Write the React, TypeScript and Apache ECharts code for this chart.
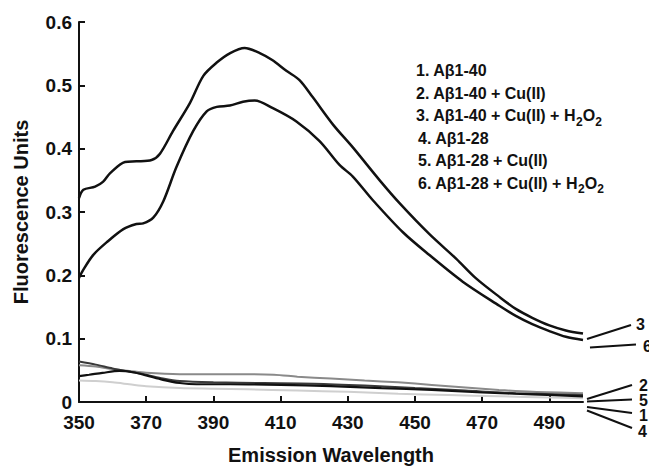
import React, { useEffect, useRef } from "react";
import * as echarts from "echarts";

const FONT = "'Liberation Sans', Arial, Helvetica, sans-serif";

// x-axis ticks / labels
const xTickLabels = [350, 370, 390, 410, 430, 450, 470, 490];
const xInnerTicks = [370, 390, 410, 430, 450, 470, 490];

// Series 3: Aβ1-40 + Cu(II) + H2O2
const wl3 = [350, 351.3, 354.8, 357.2, 359.2, 363.7, 367.1, 371.6, 374.1, 378, 383, 387, 391, 395, 399.3, 403.8, 407.5, 411.7, 415.7, 419.6, 425.6, 431.5, 439.5, 445.4, 454.3, 462.3, 468, 475.1, 480, 484.9, 490, 494.9, 500];
const fl3 = [0.322, 0.335, 0.34, 0.348, 0.361, 0.379, 0.38, 0.382, 0.392, 0.428, 0.472, 0.515, 0.536, 0.551, 0.559, 0.551, 0.54, 0.523, 0.508, 0.481, 0.438, 0.402, 0.35, 0.314, 0.265, 0.226, 0.196, 0.166, 0.147, 0.133, 0.121, 0.113, 0.108];

// Series 6: Aβ1-28 + Cu(II) + H2O2
const wl6 = [350, 351.3, 354.2, 358.2, 363.2, 367.1, 369.1, 372.1, 375.1, 379, 384, 388, 391, 394.9, 398.8, 402.3, 407.7, 414.7, 421.6, 427.6, 431.5, 437.4, 446.4, 454.3, 464.2, 475.1, 480, 484.9, 490, 494.9, 500];
const fl6 = [0.196, 0.209, 0.232, 0.252, 0.273, 0.281, 0.282, 0.291, 0.317, 0.371, 0.428, 0.459, 0.466, 0.468, 0.474, 0.476, 0.464, 0.443, 0.412, 0.374, 0.356, 0.319, 0.268, 0.232, 0.19, 0.152, 0.136, 0.123, 0.112, 0.103, 0.098];

// Series 1: Aβ1-40
const wl1 = [350, 353, 357, 362, 366, 370, 375, 380, 385, 395, 410, 425, 440, 455, 470, 485, 500];
const fl1 = [0.041, 0.043, 0.046, 0.049, 0.047, 0.042, 0.035, 0.03, 0.028, 0.028, 0.027, 0.025, 0.022, 0.019, 0.015, 0.012, 0.009];

// Series 2: Aβ1-40 + Cu(II)
const wl2 = [350, 355, 360, 365, 370, 380, 395, 408, 415, 425, 435, 445, 455, 465, 475, 485, 500];
const fl2 = [0.058, 0.056, 0.052, 0.049, 0.046, 0.044, 0.044, 0.043, 0.04, 0.037, 0.034, 0.031, 0.027, 0.023, 0.019, 0.016, 0.014];

// Series 4: Aβ1-28
const wl4 = [350, 355, 360, 365, 370, 380, 390, 400, 415, 430, 445, 460, 475, 490, 500];
const fl4 = [0.034, 0.033, 0.031, 0.028, 0.025, 0.022, 0.021, 0.02, 0.018, 0.016, 0.013, 0.011, 0.009, 0.007, 0.006];

// Series 5: Aβ1-28 + Cu(II)
const wl5 = [350, 355, 360, 365, 370, 375, 380, 390, 405, 420, 435, 450, 465, 480, 500];
const fl5 = [0.064, 0.059, 0.053, 0.048, 0.043, 0.037, 0.033, 0.031, 0.03, 0.029, 0.026, 0.022, 0.018, 0.014, 0.011];

const legendLines = [
  "{m|1. Aβ1-40}",
  "{m|2. Aβ1-40 + Cu(II)}",
  "{m|3. Aβ1-40 + Cu(II) + H}{s|2}{m|O}{s|2}",
  "{m|4. Aβ1-28}",
  "{m|5. Aβ1-28 + Cu(II)}",
  "{m|6. Aβ1-28 + Cu(II) + H}{s|2}{m|O}{s|2}",
];

const endLabels = ["3", "6", "2", "5", "1", "4"];

function pairs(xs: number[], ys: number[]) {
  return xs.map((x, i) => [x, ys[i]]);
}

export default function App() {
  const ref = useRef<HTMLDivElement>(null);
  useEffect(() => {
    if (!ref.current) return;
    const chart = echarts.init(ref.current, undefined, { renderer: "svg" });
    const mk = (name: string, data: number[][], color: string, width: number, z: number) => ({
      name,
      type: "line",
      data,
      smooth: 0.3,
      symbol: "none",
      z,
      lineStyle: { color, width },
    });

    const legendX = [416, 416, 416, 418, 418, 418];
    const legendY = [70.5, 93, 115.5, 138, 160.5, 183];

    const leaderLines = [
      [587, 339, 631, 325],
      [590, 347.5, 636, 344.5],
      [587, 399, 632, 385],
      [587, 401.5, 632, 399.5],
      [587, 407, 632, 413],
      [587, 410.5, 632, 428],
    ];
    const labelPos = [
      [636, 324],
      [643, 346],
      [639, 385],
      [639, 400],
      [639, 415],
      [638, 431],
    ];

    const graphic: any[] = [];
    legendLines.forEach((t, i) => {
      graphic.push({
        type: "text",
        x: legendX[i],
        y: legendY[i],
        style: {
          text: t,
          verticalAlign: "middle",
          align: "left",
          fill: "#111",
          rich: {
            m: { fontSize: 16, fontWeight: "bold", fontFamily: FONT, color: "#111", lineHeight: 24, verticalAlign: "middle" },
            s: { fontSize: 12, fontWeight: "bold", fontFamily: FONT, color: "#111", lineHeight: 12, verticalAlign: "bottom" },
          },
        },
      });
    });
    leaderLines.forEach((l) => {
      graphic.push({
        type: "line",
        shape: { x1: l[0], y1: l[1], x2: l[2], y2: l[3] },
        style: { stroke: "#111", lineWidth: 2 },
      });
    });
    endLabels.forEach((t, i) => {
      graphic.push({
        type: "text",
        x: labelPos[i][0],
        y: labelPos[i][1],
        style: {
          text: t,
          fontSize: 16,
          lineHeight: 13,
          fontWeight: "bold",
          fontFamily: FONT,
          fill: "#111",
          verticalAlign: "middle",
          align: "left",
        },
      });
    });

    chart.setOption({
      animation: false,
      backgroundColor: "#ffffff",
      grid: { left: 79, right: 66, top: 22, bottom: 60, containLabel: false },
      xAxis: {
        type: "value",
        min: 350,
        max: 500,
        interval: 20,
        name: "Emission Wavelength",
        nameLocation: "middle",
        nameGap: 43,
        nameTextStyle: { fontSize: 20, fontWeight: "bold", fontFamily: FONT, color: "#111" },
        axisLine: { show: true, onZero: false, lineStyle: { color: "#111", width: 2 } },
        axisTick: { show: true, inside: true, length: 6, lineStyle: { color: "#111", width: 2 }, customValues: xInnerTicks },
        axisLabel: {
          fontSize: 19,
          fontWeight: "bold",
          fontFamily: FONT,
          color: "#111",
          margin: 11,
          customValues: xTickLabels,
        },
        splitLine: { show: false },
      },
      yAxis: {
        type: "value",
        min: 0,
        max: 0.6,
        interval: 0.1,
        name: "Fluorescence Units",
        nameLocation: "middle",
        nameGap: 48,
        nameTextStyle: { fontSize: 20, fontWeight: "bold", fontFamily: FONT, color: "#111" },
        axisLine: { show: true, lineStyle: { color: "#111", width: 2 } },
        axisTick: { show: true, inside: true, length: 6, lineStyle: { color: "#111", width: 2 } },
        axisLabel: {
          fontSize: 19,
          fontWeight: "bold",
          fontFamily: FONT,
          color: "#111",
          margin: 7,
          formatter: (v: number) => (v === 0 ? "0" : v.toFixed(1)),
        },
        splitLine: { show: false },
      },
      series: [
        mk("4. Aβ1-28", pairs(wl4, fl4), "#cfcfcf", 2, 2),
        mk("2. Aβ1-40 + Cu(II)", pairs(wl2, fl2), "#8a8a8a", 2, 3),
        mk("5. Aβ1-28 + Cu(II)", pairs(wl5, fl5), "#3a3a3a", 2, 4),
        mk("1. Aβ1-40", pairs(wl1, fl1), "#111111", 2.2, 5),
        mk("3. Aβ1-40 + Cu(II) + H2O2", pairs(wl3, fl3), "#111111", 2.5, 6),
        mk("6. Aβ1-28 + Cu(II) + H2O2", pairs(wl6, fl6), "#111111", 2.5, 6),
      ],
      graphic,
    });
    return () => chart.dispose();
  }, []);
  return (
    <div
      ref={ref}
      style={{ position: "fixed", left: 0, top: 0, width: 649, height: 470, background: "#fff" }}
    />
  );
}
